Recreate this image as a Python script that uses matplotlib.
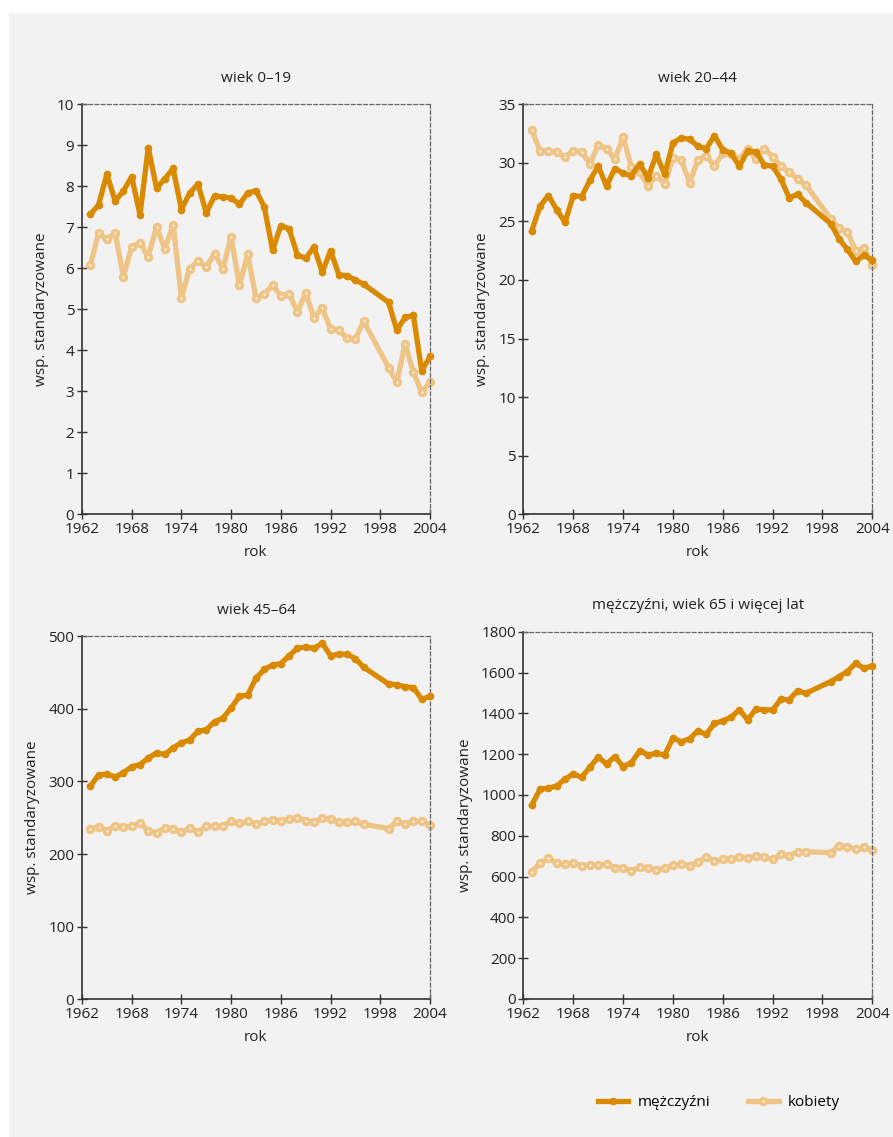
import matplotlib.pyplot as plt
from matplotlib.patches import Rectangle

plt.rcParams['font.family'] = ['Open Sans', 'DejaVu Sans']

# years with data (1997 and 1998 are missing)
years = list(range(1963, 1997)) + list(range(1999, 2005))

# age 0-19
men_0_19 = [7.31, 7.54, 8.29, 7.64, 7.88, 8.23, 7.30, 8.94, 7.95, 8.18,
            8.43, 7.43, 7.83, 8.05, 7.35, 7.76, 7.74, 7.71, 7.56, 7.83,
            7.89, 7.50, 6.44, 7.04, 6.96, 6.32, 6.24, 6.52, 5.90, 6.43,
            5.84, 5.82, 5.71, 5.61, 5.17, 4.49, 4.80, 4.85, 3.50, 3.85]
women_0_19 = [6.07, 6.85, 6.70, 6.86, 5.79, 6.52, 6.62, 6.28, 7.01, 6.47,
              7.06, 5.28, 5.99, 6.17, 6.03, 6.35, 5.99, 6.76, 5.58, 6.34,
              5.27, 5.37, 5.58, 5.33, 5.38, 4.93, 5.40, 4.79, 5.03, 4.52,
              4.49, 4.30, 4.28, 4.71, 3.58, 3.22, 4.16, 3.46, 2.98, 3.22]

# age 20-44
men_20_44 = [24.2, 26.3, 27.2, 26.0, 24.9, 27.2, 27.1, 28.5, 29.7, 28.0,
             29.5, 29.1, 28.9, 29.9, 28.7, 30.7, 29.0, 31.7, 32.1, 32.0,
             31.4, 31.2, 32.3, 31.1, 30.8, 29.7, 31.0, 30.9, 29.8, 29.7,
             28.6, 27.0, 27.3, 26.6, 24.8, 23.5, 22.6, 21.6, 22.1, 21.7]
women_20_44 = [32.8, 31.0, 31.0, 30.9, 30.5, 31.0, 30.9, 29.9, 31.5, 31.2,
               30.3, 32.2, 29.6, 29.2, 28.0, 28.9, 28.2, 30.4, 30.2, 28.3,
               30.2, 30.6, 29.7, 30.8, 30.7, 30.3, 31.2, 30.3, 31.2, 30.5,
               29.7, 29.2, 28.6, 28.1, 25.2, 24.4, 24.1, 22.5, 22.7, 21.3]

# age 45-64
men_45_64 = [293, 309, 310, 306, 312, 320, 323, 332, 339, 337,
             346, 353, 357, 369, 371, 382, 387, 401, 417, 419,
             442, 454, 460, 462, 473, 483, 485, 483, 490, 473,
             475, 475, 469, 457, 434, 433, 430, 429, 413, 417]
women_45_64 = [235, 237, 232, 239, 237, 238, 242, 232, 229, 236,
               235, 230, 236, 230, 238, 238, 238, 245, 242, 245,
               241, 245, 247, 246, 248, 250, 246, 244, 249, 248,
               244, 244, 245, 241, 235, 245, 241, 245, 245, 240]

# age 65+
men_65 = [951, 1028, 1033, 1044, 1077, 1103, 1087, 1136, 1185, 1152,
          1188, 1139, 1158, 1217, 1196, 1204, 1196, 1278, 1261, 1275,
          1314, 1297, 1351, 1363, 1381, 1417, 1368, 1422, 1417, 1417,
          1469, 1466, 1511, 1498, 1556, 1580, 1605, 1645, 1621, 1632]
women_65 = [624, 665, 690, 665, 662, 665, 654, 657, 657, 660,
            644, 641, 629, 645, 641, 632, 641, 657, 660, 654,
            670, 694, 676, 685, 686, 694, 690, 701, 694, 685,
            709, 703, 722, 722, 717, 752, 747, 734, 743, 730]

titles = ['wiek 0–19', 'wiek 20–44', 'wiek 45–64',
          'mężczyźni, wiek 65 i więcej lat']
men = [men_0_19, men_20_44, men_45_64, men_65]
women = [women_0_19, women_20_44, women_45_64, women_65]
ylims = [(0, 10, 1), (0, 35, 5), (0, 500, 100), (0, 1800, 200)]
xticks = [1962, 1968, 1974, 1980, 1986, 1992, 1998, 2004]

c_men = '#da8a00'
c_women = '#eec587'

fig = plt.figure(figsize=(8.93, 11.37), dpi=100)
fig.patches.append(Rectangle((9 / 893, -0.01), 1, 1.01 - 13 / 1137,
                             transform=fig.transFigure, facecolor='#f2f2f2',
                             edgecolor='none', zorder=-1))

positions = [
    [0.0918, 0.5475, 0.3897, 0.3610],
    [0.5862, 0.5475, 0.3906, 0.3610],
    [0.0918, 0.1211, 0.3897, 0.3195],
    [0.5862, 0.1214, 0.3906, 0.3230],
]

for i in range(4):
    ax = fig.add_axes(positions[i])
    ax.set_facecolor('none')
    ax.plot(years, men[i], color=c_men, lw=3.8, marker='o', ms=4.5,
            mfc=c_men, mec=c_men, label='mężczyźni', clip_on=False, zorder=3)
    # small white dot in the middle of each marker
    ax.plot(years, women[i], color=c_women, lw=3.8, marker='o', ms=4.2,
            mfc='white', mec=c_women, mew=2.6, label='kobiety',
            clip_on=False, zorder=2)
    lo, hi, step = ylims[i]
    ax.set_ylim(lo, hi)
    ax.set_yticks(range(lo, hi + 1, step))
    ax.set_xlim(1962, 2004)
    ax.set_xticks(xticks)
    ax.set_title(titles[i], fontsize=11, pad=16, color='#222222')
    ax.set_xlabel('rok', fontsize=11, labelpad=6, color='#222222')
    ax.set_ylabel('wsp. standaryzowane', fontsize=11, labelpad=6,
                  color='#222222')
    ax.tick_params(direction='inout', length=7, width=1, colors='#333333',
                   labelsize=11, pad=2, labelcolor='#222222')
    for s in ['left', 'bottom']:
        ax.spines[s].set_color('#333333')
        ax.spines[s].set_linewidth(1.2)
    for s in ['top', 'right']:
        ax.spines[s].set_color('#666666')
        ax.spines[s].set_linewidth(0.9)
        ax.spines[s].set_linestyle((0, (3, 2)))

handles, labels = ax.get_legend_handles_labels()
fig.legend(handles, labels, loc='center', bbox_to_anchor=(0.805, 0.03),
           ncol=2, frameon=False, fontsize=11, handlelength=2.0,
           columnspacing=2.5, handletextpad=0.6)

fig.savefig('out.png', dpi=100)
